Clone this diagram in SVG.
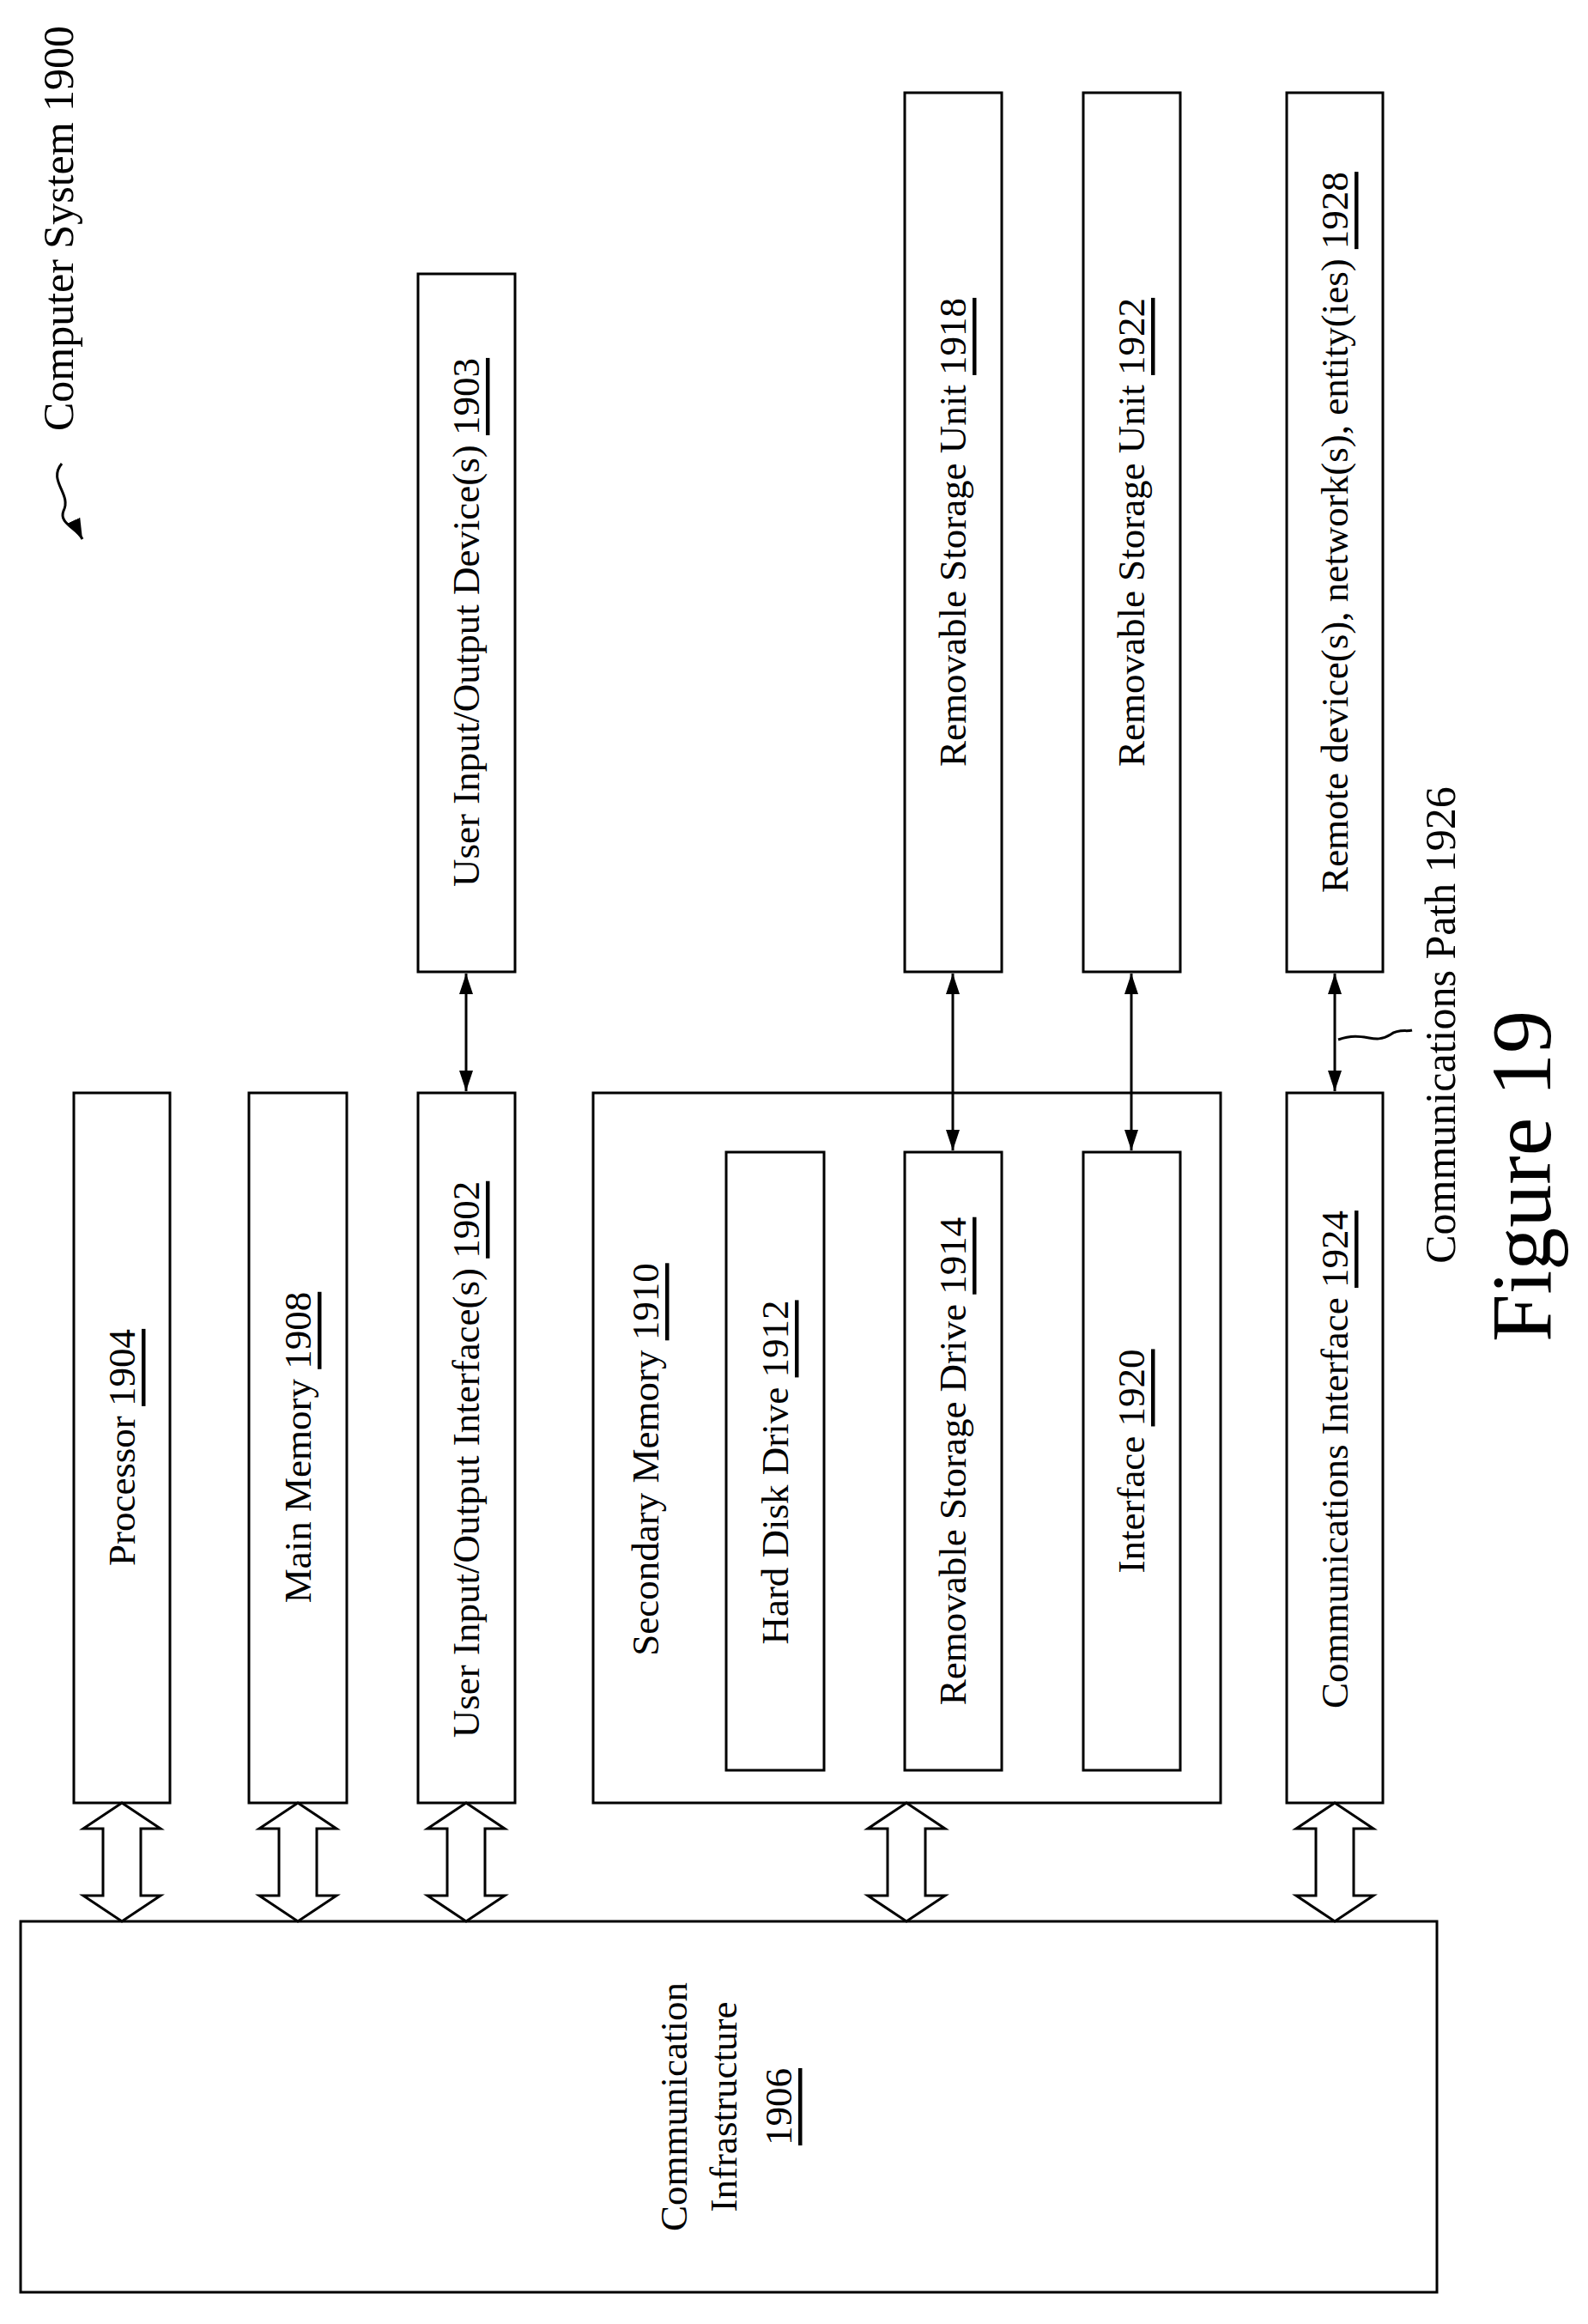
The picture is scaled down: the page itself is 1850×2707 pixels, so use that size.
<svg xmlns="http://www.w3.org/2000/svg" width="1850" height="2707" viewBox="0 0 1850 2707" xml:space="preserve">
<style>
rect{fill:#fff;stroke:#000;stroke-width:3}
text{font-family:"Liberation Serif",serif;font-size:45px;fill:#000}
.u{text-decoration:underline}
.c{stroke:#000;stroke-width:3;fill:none}
.h{fill:#fff;stroke:#000;stroke-width:3}
</style>
<defs>
<marker id="b" viewBox="0 0 24 16" refX="24" refY="8" markerWidth="24" markerHeight="16" orient="auto-start-reverse" markerUnits="userSpaceOnUse"><path d="M0,0 L24,8 L0,16 z" fill="#000"/></marker>
</defs>
<g id="label1900">
<text transform="translate(68,266) rotate(-90)" text-anchor="middle" dominant-baseline="central" style="font-size:50px">Computer System 1900</text>
<path class="c" d="M72,540 C55,560 84,575 74,595 C68,610 90,615 96,628" marker-end="url(#b)"/>
</g>
<g id="n1904"><rect x="86" y="1273" width="112" height="827"/><text transform="translate(142,1686) rotate(-90)" text-anchor="middle" dominant-baseline="central">Processor <tspan class="u">1904</tspan></text></g>
<g id="n1908"><rect x="290" y="1273" width="114" height="827"/><text transform="translate(347,1686) rotate(-90)" text-anchor="middle" dominant-baseline="central">Main Memory  <tspan class="u">1908</tspan></text></g>
<g id="n1902"><rect x="487" y="1273" width="113" height="827"/><text transform="translate(543,1700) rotate(-90)" text-anchor="middle" dominant-baseline="central">User Input/Output Interface(s)  <tspan class="u">1902</tspan></text></g>
<g id="n1903"><rect x="487" y="319" width="113" height="813"/><text transform="translate(543,725) rotate(-90)" text-anchor="middle" dominant-baseline="central">User Input/Output Device(s)  <tspan class="u">1903</tspan></text></g>
<g id="n1910"><rect x="691" y="1273" width="731" height="827"/><text transform="translate(752,1700) rotate(-90)" text-anchor="middle" dominant-baseline="central">Secondary Memory  <tspan class="u">1910</tspan></text></g>
<g id="n1912"><rect x="846" y="1342" width="114" height="720"/><text transform="translate(903,1715) rotate(-90)" text-anchor="middle" dominant-baseline="central">Hard Disk Drive  <tspan class="u">1912</tspan></text></g>
<g id="n1914"><rect x="1054" y="1342" width="113" height="720"/><text transform="translate(1110,1702) rotate(-90)" text-anchor="middle" dominant-baseline="central">Removable Storage Drive  <tspan class="u">1914</tspan></text></g>
<g id="n1920"><rect x="1262" y="1342" width="113" height="720"/><text transform="translate(1318,1702) rotate(-90)" text-anchor="middle" dominant-baseline="central">Interface  <tspan class="u">1920</tspan></text></g>
<g id="n1924"><rect x="1499" y="1273" width="112" height="827"/><text transform="translate(1555,1700) rotate(-90)" text-anchor="middle" dominant-baseline="central">Communications Interface  <tspan class="u">1924</tspan></text></g>
<g id="n1918"><rect x="1054" y="108" width="113" height="1024"/><text transform="translate(1110,620) rotate(-90)" text-anchor="middle" dominant-baseline="central">Removable Storage Unit  <tspan class="u">1918</tspan></text></g>
<g id="n1922"><rect x="1262" y="108" width="113" height="1024"/><text transform="translate(1318,620) rotate(-90)" text-anchor="middle" dominant-baseline="central">Removable Storage Unit  <tspan class="u">1922</tspan></text></g>
<g id="n1928"><rect x="1499" y="108" width="112" height="1024"/><text transform="translate(1555,620) rotate(-90)" text-anchor="middle" dominant-baseline="central">Remote device(s), network(s), entity(ies) <tspan class="u">1928</tspan></text></g>
<g id="n1906"><rect x="24" y="2238" width="1650" height="432"/>
<text transform="translate(785,2454) rotate(-90)" text-anchor="middle" dominant-baseline="central">Communication</text>
<text transform="translate(843,2454) rotate(-90)" text-anchor="middle" dominant-baseline="central">Infrastructure</text>
<text transform="translate(907,2454) rotate(-90)" text-anchor="middle" dominant-baseline="central"><tspan class="u">1906</tspan></text></g>
<g id="connectors">
<line class="c" x1="543" y1="1134" x2="543" y2="1271" marker-start="url(#b)" marker-end="url(#b)"/>
<line class="c" x1="1110" y1="1134" x2="1110" y2="1340" marker-start="url(#b)" marker-end="url(#b)"/>
<line class="c" x1="1318" y1="1134" x2="1318" y2="1340" marker-start="url(#b)" marker-end="url(#b)"/>
<line class="c" x1="1555" y1="1134" x2="1555" y2="1271" marker-start="url(#b)" marker-end="url(#b)"/>
<polygon class="h" points="142,2100 187,2130 164,2130 164,2208 187,2208 142,2238 97,2208 120,2208 120,2130 97,2130"/>
<polygon class="h" points="347,2100 392,2130 369,2130 369,2208 392,2208 347,2238 302,2208 325,2208 325,2130 302,2130"/>
<polygon class="h" points="543,2100 588,2130 565,2130 565,2208 588,2208 543,2238 498,2208 521,2208 521,2130 498,2130"/>
<polygon class="h" points="1056,2100 1101,2130 1078,2130 1078,2208 1101,2208 1056,2238 1011,2208 1034,2208 1034,2130 1011,2130"/>
<polygon class="h" points="1555,2100 1600,2130 1577,2130 1577,2208 1600,2208 1555,2238 1510,2208 1533,2208 1533,2130 1510,2130"/>
</g>
<g id="label1926">
<text transform="translate(1678,1194) rotate(-90)" text-anchor="middle" dominant-baseline="central" style="font-size:50px">Communications Path 1926</text>
<path class="c" d="M1559,1211 C1590,1200 1600,1218 1620,1205 C1630,1198 1638,1202 1645,1200"/>
</g>
<g id="figlabel"><text transform="translate(1772,1370) rotate(-90)" text-anchor="middle" dominant-baseline="central" style="font-size:100px">Figure 19</text></g>
</svg>
